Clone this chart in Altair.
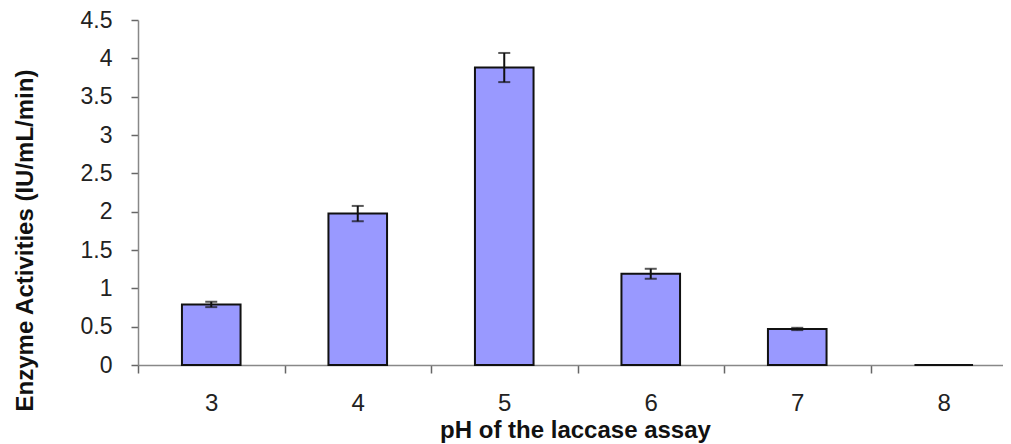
import altair as alt
import pandas as pd

ph = ["3", "4", "5", "6", "7", "8"]
activity = [0.79, 1.975, 3.88, 1.19, 0.47, 0.0]
error = [0.035, 0.10, 0.19, 0.065, 0.015, 0.0]

df = pd.DataFrame({
    "ph": ph,
    "activity": activity,
    "lo": [a - e for a, e in zip(activity, error)],
    "hi": [a + e for a, e in zip(activity, error)],
})

FONT = "Liberation Sans"

x_axis = alt.Axis(
    title="pH of the laccase assay",
    titleFont=FONT, titleFontSize=24, titleFontWeight="bold", titleColor="#111",
    titleX=437, titleY=65, titleBaseline="middle", titleAlign="center",
    labelFont=FONT, labelFontSize=24, labelColor="#222", labelAngle=0,
    labelBaseline="middle", labelPadding=30,
    tickBand="extent", tickSize=8, tickColor="#666", tickWidth=1.5,
    domainColor="#888", domainWidth=1.5, grid=False,
)
x_scale = alt.Scale(paddingInner=0, paddingOuter=0)

y_scale = alt.Scale(domain=[0, 4.5], nice=False)
y_axis = alt.Axis(
    title="Enzyme Activities (IU/mL/min)",
    titleFont=FONT, titleFontSize=24, titleFontWeight="bold", titleColor="#111",
    titleX=-113, titleY=220, titleAngle=-90, titleBaseline="middle", titleAlign="center",
    labelFont=FONT, labelFontSize=23, labelColor="#222", labelPadding=19,
    labelOverlap=False,
    values=[0, 0.5, 1, 1.5, 2, 2.5, 3, 3.5, 4, 4.5], format="~g",
    tickSize=7, tickColor="#666", tickWidth=1.5,
    domainColor="#888", domainWidth=1.5, grid=False,
)


def X():
    return alt.X("ph:N", sort=ph, scale=x_scale, axis=x_axis)


def Y(field):
    return alt.Y(field, scale=y_scale, axis=y_axis)


base = alt.Chart(df)

bars = base.mark_bar(
    width=alt.RelativeBandSize(0.4), color="#9999FF", stroke="#111", strokeWidth=2
).encode(x=X(), y=Y("activity:Q"))

err = base.mark_rule(color="#111", strokeWidth=2).encode(
    x=X(), y=Y("lo:Q"), y2="hi:Q"
)
cap_hi = base.mark_tick(color="#111", thickness=2, size=12, orient="horizontal").encode(
    x=X(), y=Y("hi:Q")
)
cap_lo = base.mark_tick(color="#111", thickness=2, size=12, orient="horizontal").encode(
    x=X(), y=Y("lo:Q")
)

chart = (bars + err + cap_hi + cap_lo).properties(
    width=879, height=345,
    autosize=alt.AutoSizeParams(type="none"),
    padding={"left": 130, "top": 12, "right": -14, "bottom": 82},
    background="white",
).configure_view(stroke="transparent", strokeWidth=0)

chart.save("out.html", embed_options={"renderer": "svg", "actions": False})
